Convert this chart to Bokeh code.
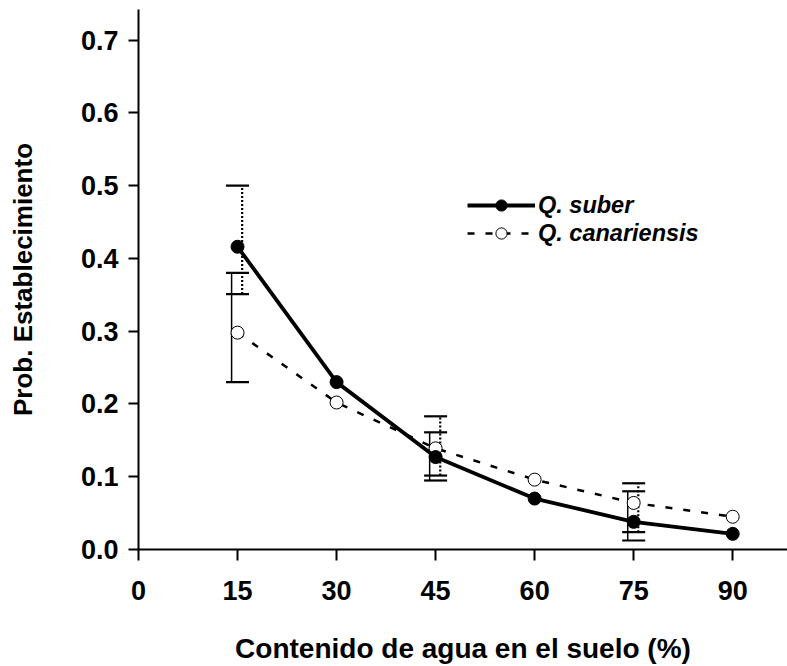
from bokeh.plotting import figure
from bokeh.models import FixedTicker, PrintfTickFormatter, Legend, LegendItem, ColumnDataSource
from bokeh.transform import dodge
from bokeh.embed import file_html
from bokeh.resources import INLINE

# Data
water = [15, 30, 45, 60, 75, 90]
suber = [0.416, 0.230, 0.127, 0.070, 0.038, 0.0215]
canariensis = [0.298, 0.202, 0.139, 0.096, 0.064, 0.045]

err_water = [15, 45, 75]
suber_upper = [0.500, 0.183, 0.091]
suber_lower = [0.351, 0.1016, 0.0238]
canar_upper = [0.380, 0.161, 0.080]
canar_lower = [0.230, 0.0948, 0.0124]

x_ticks = [0, 15, 30, 45, 60, 75, 90]
y_ticks = [0.0, 0.1, 0.2, 0.3, 0.4, 0.5, 0.6, 0.7]

FONT = "Liberation Sans"

p = figure(width=787, height=666, x_range=(0, 98.3), y_range=(0, 0.742),
           output_backend="svg", toolbar_location=None,
           min_border_left=138, min_border_right=0, min_border_top=9,
           min_border_bottom=117)
p.outline_line_color = None
p.grid.visible = False
p.background_fill_color = "white"

p.xaxis.ticker = FixedTicker(ticks=x_ticks)
p.yaxis.ticker = FixedTicker(ticks=y_ticks)
p.yaxis.formatter = PrintfTickFormatter(format="%.1f")

for ax in (p.xaxis, p.yaxis):
    ax.axis_line_width = 2
    ax.axis_line_color = "black"
    ax.major_tick_line_width = 2
    ax.major_tick_line_color = "black"
    ax.minor_tick_line_color = None
    ax.major_tick_in = 0
    ax.major_label_text_font = FONT
    ax.major_label_text_font_style = "bold"
    ax.major_label_text_font_size = "27px"
    ax.major_label_text_color = "black"
    ax.axis_label_text_font = FONT
    ax.axis_label_text_font_style = "bold"
    ax.axis_label_text_color = "black"

p.xaxis.major_tick_out = 11
p.yaxis.major_tick_out = 10
p.xaxis.major_label_standoff = 20
p.yaxis.major_label_standoff = 10
p.xaxis.axis_label = "Contenido de agua en el suelo (%)"
p.yaxis.axis_label = "Prob. Establecimiento"
p.xaxis.axis_label_text_font_size = "28px"
p.yaxis.axis_label_text_font_size = "26px"
p.xaxis.axis_label_standoff = 30
p.yaxis.axis_label_standoff = 40

err_src = ColumnDataSource(dict(x=err_water, su=suber_upper, sl=suber_lower,
                                cu=canar_upper, cl=canar_lower))

# Error bars: canariensis solid thin, suber dotted
p.segment(x0=dodge('x', -0.9), y0='cl', x1=dodge('x', -0.9), y1='cu',
          source=err_src, line_color="black", line_width=1.5)
p.segment(x0=dodge('x', 0.7), y0='sl', x1=dodge('x', 0.7), y1='su',
          source=err_src, line_color="black", line_width=2.2, line_dash="2 2")
for col in ('su', 'sl', 'cu', 'cl'):
    p.scatter(x='x', y=col, source=err_src, marker="dash", size=23,
              line_color="black", line_width=2.2)

# Series
lc = p.line(water, canariensis, line_color="black", line_width=2.5, line_dash="7 11")
cc = p.scatter(water, canariensis, marker="circle", size=13, fill_color="white",
               line_color="black", line_width=1)
ls = p.line(water, suber, line_color="black", line_width=3.8)
cs = p.scatter(water, suber, marker="circle", size=13, fill_color="black",
               line_color="black")

legend = Legend(items=[LegendItem(label="Q. suber", renderers=[ls, cs]),
                       LegendItem(label="Q. canariensis", renderers=[lc, cc])],
                location=(329, 302), padding=0, margin=0, spacing=0,
                glyph_width=68, glyph_height=28, label_height=28,
                label_standoff=3, border_line_color=None,
                background_fill_alpha=0,
                label_text_font=FONT, label_text_font_style="bold italic",
                label_text_font_size="23.5px", label_text_color="black")
p.add_layout(legend)

open("out.html", "w").write(file_html(p, INLINE))
